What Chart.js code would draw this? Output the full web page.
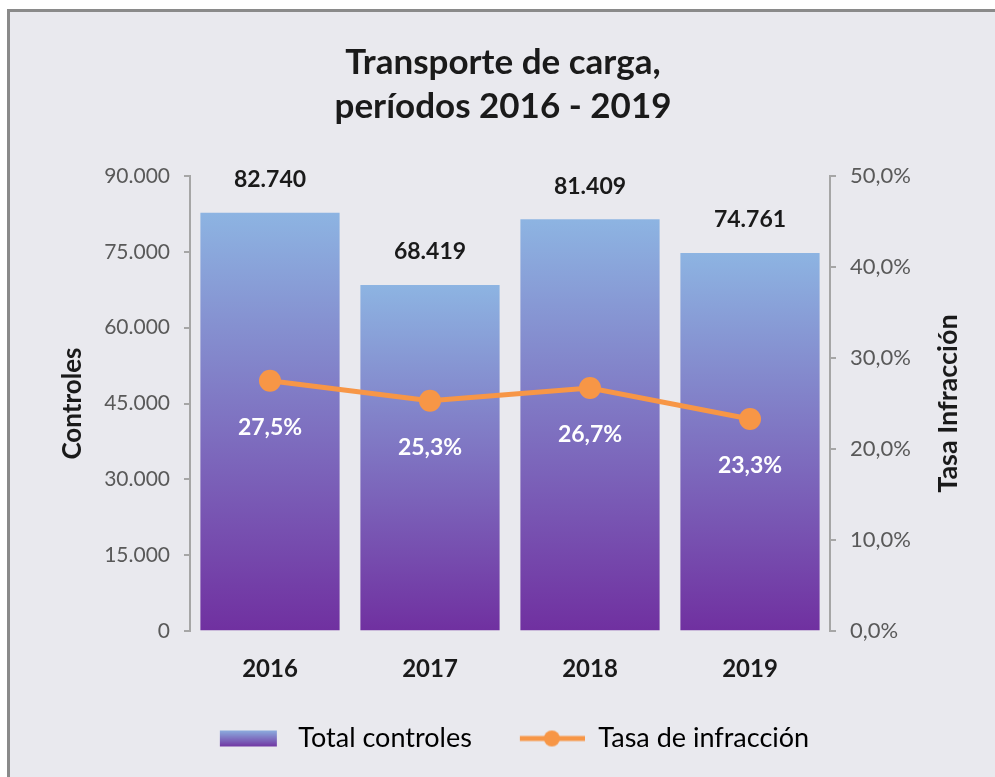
<!DOCTYPE html>
<html>
<head>
<meta charset="utf-8">
<script src="https://cdn.jsdelivr.net/npm/chart.js@4.4.0/dist/chart.umd.min.js"></script>
<style>
  html, body { margin: 0; padding: 0; background: #ffffff; }
  body { width: 995px; height: 777px; position: relative; overflow: hidden; }
  #frame {
    position: absolute; left: 7px; top: 9px; width: 995px; height: 777px;
    background: #e9e9ee; border-top: 3px solid #8a8a8a; border-left: 3px solid #8a8a8a;
  }
  #wrap { position: absolute; left: 0; top: 0; width: 995px; height: 777px; }
</style>
</head>
<body>
<div id="frame"></div>
<div id="wrap"><canvas id="myChart" width="995" height="777"></canvas></div>
<script>
// data
const years = ["2016", "2017", "2018", "2019"];
const totalControles = [82740, 68419, 81409, 74761];
const tasaInfraccion = [27.5, 25.3, 26.7, 23.3];

const FONT = "Lato, 'Open Sans', sans-serif";
const BLUE_TOP = "#8db4e2";
const PURPLE = "#7030a0";
const ORANGE = "#f79646";

function fmtMiles(n) {
  return String(n).replace(/\B(?=(\d{3})+(?!\d))/g, ".");
}
function fmtPct(v) {
  return v.toFixed(1).replace(".", ",") + "%";
}

// little pictures for the legend (same width, drawing pushed to the right)
const SYMBOL_W = 88;
function legendBar() {
  let c = document.createElement("canvas");
  c.width = SYMBOL_W; c.height = 18;
  let g = c.getContext("2d");
  let grad = g.createLinearGradient(0, 0, 0, 18);
  grad.addColorStop(0, BLUE_TOP);
  grad.addColorStop(1, PURPLE);
  g.fillStyle = grad;
  g.fillRect(SYMBOL_W - 65, 1, 57, 16);
  return c;
}
function legendLine() {
  let c = document.createElement("canvas");
  c.width = SYMBOL_W; c.height = 20;
  let g = c.getContext("2d");
  g.strokeStyle = ORANGE;
  g.lineWidth = 5;
  g.beginPath(); g.moveTo(SYMBOL_W - 65, 10); g.lineTo(SYMBOL_W, 10); g.stroke();
  g.fillStyle = ORANGE;
  g.beginPath(); g.arc(SYMBOL_W - 33, 10, 8, 0, Math.PI * 2); g.fill();
  return c;
}

// labels over the bars, under the points, and the right title
const labelPlugin = {
  id: "labels",
  afterDatasetsDraw(chart) {
    let ctx = chart.ctx;
    ctx.save();
    ctx.textAlign = "center";
    ctx.textBaseline = "middle";
    ctx.font = "bold 23px " + FONT;
    ctx.fillStyle = "#1a1a1a";
    chart.getDatasetMeta(1).data.forEach((el, i) => {
      ctx.fillText(fmtMiles(totalControles[i]), el.x, el.y - 33);
    });
    ctx.fillStyle = "#ffffff";
    chart.getDatasetMeta(0).data.forEach((el, i) => {
      ctx.fillText(fmtPct(tasaInfraccion[i]), el.x, el.y + 47);
    });
    let s = chart.scales.y1;
    ctx.translate(s.left + 118, (s.top + s.bottom) / 2);
    ctx.rotate(-Math.PI / 2);
    ctx.font = "bold 27px " + FONT;
    ctx.fillStyle = "#1a1a1a";
    ctx.fillText("Tasa Infracción", 0, 0);
    ctx.restore();
  },
};

let canvas = document.getElementById("myChart").getContext("2d");
let myChart = new Chart(canvas, {
  data: {
    labels: years,
    datasets: [
      {
        type: "line",
        label: "Tasa de infracción",
        data: tasaInfraccion,
        yAxisID: "y1",
        borderColor: ORANGE,
        backgroundColor: ORANGE,
        borderWidth: 5,
        pointRadius: 11,
        pointHoverRadius: 11,
        pointBorderWidth: 0,
        order: 0,
      },
      {
        type: "bar",
        label: "Total controles",
        data: totalControles,
        yAxisID: "y",
        backgroundColor: (c) => {
          let chart = c.chart;
          if (!chart.chartArea || c.type !== "data") return BLUE_TOP;
          let y = chart.scales.y;
          let grad = chart.ctx.createLinearGradient(0, y.getPixelForValue(c.raw), 0, y.getPixelForValue(0));
          grad.addColorStop(0, BLUE_TOP);
          grad.addColorStop(1, PURPLE);
          return grad;
        },
        barPercentage: 0.87,
        categoryPercentage: 1,
        order: 1,
      },
    ],
  },
  options: {
    responsive: false,
    animation: false,
    layout: { padding: { top: 30, left: 16, right: 5, bottom: 15 } },
    plugins: {
      tooltip: { enabled: false },
      title: {
        display: true,
        text: ["Transporte de carga,", "períodos 2016 - 2019"],
        color: "#1a1a1a",
        font: { family: FONT, size: 35, weight: "bold", lineHeight: 1.27 },
        padding: { top: 10, bottom: 47 },
      },
      legend: {
        position: "bottom",
        labels: {
          usePointStyle: true,
          pointStyleWidth: SYMBOL_W,
          boxHeight: 20,
          padding: 25,
          color: "#404040",
          font: { family: FONT, size: 27 },
          generateLabels: () => [
            { text: "Total controles", pointStyle: legendBar(), fillStyle: PURPLE, strokeStyle: "transparent", lineWidth: 0, hidden: false, datasetIndex: 1 },
            { text: "Tasa de infracción", pointStyle: legendLine(), fillStyle: ORANGE, strokeStyle: "transparent", lineWidth: 0, hidden: false, datasetIndex: 0 },
          ],
        },
      },
    },
    scales: {
      x: {
        grid: { display: false },
        border: { display: false },
        ticks: { color: "#1a1a1a", font: { family: FONT, size: 24, weight: "bold" }, padding: 16 },
      },
      y: {
        position: "left",
        min: 0,
        max: 90000,
        afterFit: (s) => { s.width = 174; },
        ticks: { stepSize: 15000, color: "#595959", font: { family: FONT, size: 21 }, padding: 14, callback: (v) => fmtMiles(v) },
        grid: { drawOnChartArea: false, color: "#a6a6a6", tickLength: 6, lineWidth: 2 },
        border: { color: "#a6a6a6", width: 2 },
        title: { display: true, text: "Controles", color: "#1a1a1a", font: { family: FONT, size: 26, weight: "bold" }, padding: 41 },
      },
      y1: {
        position: "right",
        min: 0,
        max: 50,
        afterFit: (s) => { s.width = 160; },
        ticks: { stepSize: 10, color: "#595959", font: { family: FONT, size: 22 }, padding: 14, callback: (v) => fmtPct(v) },
        grid: { drawOnChartArea: false, color: "#a6a6a6", tickLength: 6, lineWidth: 2 },
        border: { color: "#a6a6a6", width: 2 },
      },
    },
  },
  plugins: [labelPlugin],
});
</script>
</body>
</html>
